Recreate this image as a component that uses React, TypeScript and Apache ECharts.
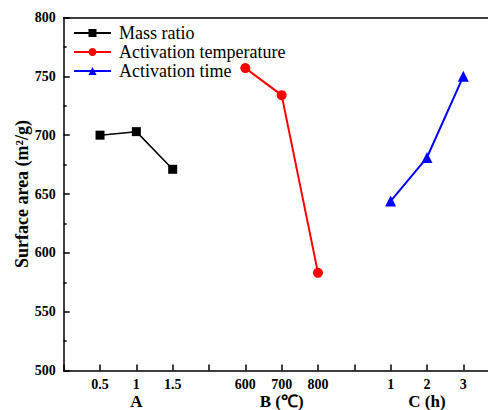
import React, { useEffect, useRef } from "react";
import * as echarts from "echarts";

const tickLabels = ["", "0.5", "1", "1.5", "", "600", "700", "800", "", "1", "2", "3", ""];
const groupLabels = ["A", "B (℃)", "C (h)"];
const groupCenters = [2, 6, 10];

const massRatioX = [1, 2, 3];
const massRatioValues = [700, 703, 671];
const tempX = [5, 6, 7];
const tempValues = [757, 734, 583];
const timeX = [9, 10, 11];
const timeValues = [644, 681, 750];

const yTicks = { min: 500, max: 800, interval: 50 };
const xMax = 11.68;

const serif = "'Liberation Serif', 'Times New Roman', serif";

function pairs(xs: number[], ys: number[]) {
  return xs.map((x, i) => [x, ys[i]]);
}

export default function App() {
  const ref = useRef<HTMLDivElement>(null);
  useEffect(() => {
    if (!ref.current) return;
    const chart = echarts.init(ref.current, null, { renderer: "svg" });
    chart.setOption({
      animation: false,
      backgroundColor: "#fff",
      grid: {
        left: 63.7,
        right: 0,
        top: 17.5,
        bottom: 39.5,
        show: false,
        containLabel: false,
        outerBoundsMode: "none",
      },
      legend: {
        orient: "vertical",
        left: 73,
        top: 24,
        padding: 0,
        itemGap: 1,
        itemWidth: 37,
        itemHeight: 10,
        textStyle: { fontFamily: serif, fontSize: 18, color: "#000", padding: [0, 0, 0, 3] },
        data: ["Mass ratio", "Activation temperature", "Activation time"],
      },
      xAxis: [
        {
          type: "value",
          min: 0,
          max: xMax,
          interval: 1,
          axisLine: { show: true, lineStyle: { color: "#000", width: 1.5 } },
          axisTick: { show: true, inside: true, length: 6, lineStyle: { color: "#000", width: 1.5 } },
          splitLine: { show: false },
          axisLabel: {
            formatter: (v: number) => tickLabels[Math.round(v)] ?? "",
            fontFamily: serif,
            fontWeight: "bold",
            fontSize: 14,
            color: "#000",
            margin: 7,
            showMaxLabel: false,
          },
        },
        {
          type: "value",
          min: 0,
          max: xMax,
          interval: 1,
          position: "bottom",
          offset: 16,
          axisLine: { show: false },
          axisTick: { show: false },
          splitLine: { show: false },
          axisLabel: {
            formatter: (v: number) => {
              const i = groupCenters.indexOf(v);
              return i >= 0 ? groupLabels[i] : "";
            },
            fontFamily: serif,
            fontWeight: "bold",
            fontSize: 17,
            lineHeight: 15,
            color: "#000",
            margin: 7.5,
            showMaxLabel: false,
          },
        },
        {
          type: "value",
          min: 0,
          max: xMax,
          interval: 1,
          position: "top",
          axisLine: { show: true, lineStyle: { color: "#000", width: 1.5 } },
          axisTick: { show: false },
          axisLabel: { show: false },
          splitLine: { show: false },
        },
      ],
      yAxis: {
        type: "value",
        min: yTicks.min,
        max: yTicks.max,
        interval: yTicks.interval,
        name: "Surface area (m²/g)",
        nameLocation: "middle",
        nameGap: 33,
        nameMoveOverlap: false,
        nameTextStyle: { fontFamily: serif, fontWeight: "bold", fontSize: 18, color: "#000" },
        axisLine: { show: true, lineStyle: { color: "#000", width: 1.5 } },
        axisTick: { show: true, inside: true, length: 6, lineStyle: { color: "#000", width: 1.5 } },
        minorTick: { show: true, splitNumber: 2, length: 3, lineStyle: { color: "#000", width: 1.5 } },
        splitLine: { show: false },
        axisLabel: {
          fontFamily: serif,
          fontWeight: "bold",
          fontSize: 14,
          color: "#000",
          margin: 8,
        },
      },
      series: [
        {
          name: "Mass ratio",
          type: "line",
          data: pairs(massRatioX, massRatioValues),
          symbol: "rect",
          symbolSize: 9,
          itemStyle: { color: "#000" },
          lineStyle: { color: "#000", width: 1.5 },
        },
        {
          name: "Activation temperature",
          type: "line",
          data: pairs(tempX, tempValues),
          symbol: "circle",
          symbolSize: 10,
          itemStyle: { color: "#ff0000" },
          lineStyle: { color: "#ff0000", width: 2 },
        },
        {
          name: "Activation time",
          type: "line",
          data: pairs(timeX, timeValues),
          symbol: "triangle",
          symbolSize: 11,
          itemStyle: { color: "#0000ff" },
          lineStyle: { color: "#0000ff", width: 2 },
        },
      ],
    });
    return () => chart.dispose();
  }, []);
  return (
    <div
      ref={ref}
      style={{ position: "absolute", left: 0, top: 0, width: 488, height: 410 }}
    />
  );
}
